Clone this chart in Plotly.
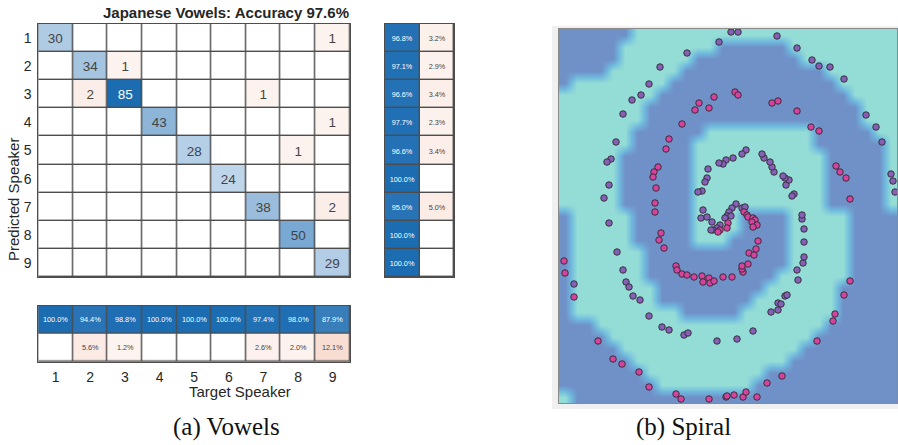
import numpy as np
import plotly.graph_objects as go

W, H = 898, 445

# ---------------- data: confusion matrix (rows = predicted, cols = target) ----------------
speakers = [1, 2, 3, 4, 5, 6, 7, 8, 9]
confusion = [
    [30, 0, 0, 0, 0, 0, 0, 0, 1],
    [0, 34, 1, 0, 0, 0, 0, 0, 0],
    [0, 2, 85, 0, 0, 0, 1, 0, 0],
    [0, 0, 0, 43, 0, 0, 0, 0, 1],
    [0, 0, 0, 0, 28, 0, 0, 1, 0],
    [0, 0, 0, 0, 0, 24, 0, 0, 0],
    [0, 0, 0, 0, 0, 0, 38, 0, 2],
    [0, 0, 0, 0, 0, 0, 0, 50, 0],
    [0, 0, 0, 0, 0, 0, 0, 0, 29],
]
chart_title = "Japanese Vowels: Accuracy 97.6%"
x_label = "Target Speaker"
y_label = "Predicted Speaker"
caption_a = "(a) Vowels"
caption_b = "(b) Spiral"

# ---------------- data: spiral points (pixel-based units) ----------------
purple_x = [731, 738, 777, 797, 812, 819, 830, 844, 866, 876, 882, 891, 893, 895,
            719, 687, 660, 649, 641, 632, 623, 616, 611, 607, 609, 604,
            609, 617, 623, 626, 629, 633, 640, 649, 662, 669, 684, 688, 717, 737, 753,
            771, 778, 778, 781, 785, 787, 798, 797, 803, 804, 804, 804, 802, 802, 574,
            794, 792, 786, 789, 785, 783, 774, 772, 770, 764, 762, 746, 742, 733, 726,
            723, 719, 708, 707, 705, 702, 698, 703, 701, 707, 712,
            736, 732, 729, 727, 731, 725, 720, 717, 713, 711, 742, 745]
purple_y = [32, 32, 36, 48, 60, 66, 67, 79, 115, 127, 142, 174, 181, 192,
            42, 53, 67, 84, 95, 100, 114, 142, 159, 162, 185, 198,
            223, 252, 270, 282, 287, 296, 300, 316, 327, 330, 335, 333, 341, 339, 331,
            312, 310, 303, 304, 296, 295, 280, 270, 263, 257, 242, 229, 219, 215, 284,
            194, 196, 185, 180, 178, 176, 172, 167, 162, 158, 154, 150, 154, 158, 160,
            164, 163, 169, 178, 182, 191, 192, 210, 218, 217, 222,
            204, 208, 212, 216, 216, 218, 225, 228, 230, 230, 208, 207]

magenta_x = [714, 699, 695, 709, 682, 669, 666, 658, 654, 653, 656, 655, 655,
             735, 738, 772, 778, 797, 811, 819, 836, 840, 846, 850,
             661, 659, 664, 676, 677, 682, 687, 694, 702, 703, 709, 710, 714, 723, 732,
             743, 742, 742, 748, 749, 754, 756, 758,
             744, 747, 748, 753, 755, 752, 757, 753, 728, 727, 720, 718,
             564, 565, 574, 598, 613, 622, 639, 649, 676, 681, 709, 726, 727, 734,
             743, 746, 757, 767, 782, 817, 833, 835, 844, 850]
magenta_y = [97, 103, 110, 108, 124, 139, 149, 167, 172, 177, 188, 203, 212,
             92, 95, 103, 101, 111, 127, 131, 166, 172, 178, 199,
             233, 240, 248, 266, 270, 274, 275, 277, 276, 282, 278, 283, 281, 277, 277,
             272, 269, 266, 264, 253, 255, 249, 241,
             212, 215, 217, 218, 220, 222, 225, 227, 223, 228, 230, 232,
             261, 273, 297, 341, 359, 364, 372, 387, 394, 399, 399, 397, 396, 395,
             397, 392, 397, 383, 376, 341, 321, 314, 295, 281]

# classifier decision regions ('#' = dark class, '.' = light class), 31 rows x 28 cols
region_rows = [
    "######......................",
    "#####........######.........",
    "#####......#########........",
    "####......############......",
    "#........##############.....",
    "........################....",
    ".......##################...",
    ".......##################...",
    "......######.........#####..",
    "......#####..........######.",
    ".....######...........#####.",
    ".....######...........#####.",
    ".....######...........#####.",
    ".....######...........#####.",
    ".....######...........#####.",
    "#.....#####....####.....####",
    "#.....#####....####.....####",
    "#.....#####...#####.....####",
    "#......############.....####",
    "#......############.....####",
    "#......###########......####",
    "#.......#########......#####",
    "#.......########.......#####",
    "#.........#####........#####",
    "###...................######",
    "####.................#######",
    "#####...............########",
    "######.............#########",
    "#######..........###########",
    "########........############",
    ".###########################",
]

# ---------------- helpers ----------------
def fx(p):
    return p / W


def fy(p):
    return 1 - p / H


BLUE = "rgb(28,108,178)"
ORANGE = "rgb(217,83,25)"
cm_scale = [[0.0, ORANGE], [0.5, "white"], [1.0, BLUE]]
FONT = "Liberation Sans, Arial, sans-serif"
TXT = "#262626"

cm = np.array(confusion, dtype=float)
n = len(speakers)
diag_max = cm.diagonal().max()
cm_color = np.zeros_like(cm)
cm_text = []
for i in range(n):
    row = []
    for j in range(n):
        v = cm[i, j]
        if i == j:
            cm_color[i, j] = v / diag_max
        elif v > 0:
            cm_color[i, j] = -(0.04 + 0.03 * v)
        row.append(str(int(v)) if v > 0 else "")
    cm_text.append(row)

row_tot = cm.sum(axis=1)
col_tot = cm.sum(axis=0)
row_ok = cm.diagonal() / row_tot * 100
col_ok = cm.diagonal() / col_tot * 100


def err_color(e):
    return -(0.05 + e / 100 * 1.2) if e > 0.05 else 0.0


row_color = [[p / 100, err_color(100 - p)] for p in row_ok]
row_text = [[f"{p:.1f}%", (f"{100 - p:.1f}%" if 100 - p > 0.05 else "")] for p in row_ok]
col_color = [[p / 100 for p in col_ok], [err_color(100 - p) for p in col_ok]]
col_text = [[f"{p:.1f}%" for p in col_ok],
            [(f"{100 - p:.1f}%" if 100 - p > 0.05 else "") for p in col_ok]]

fig = go.Figure()

# main matrix
fig.add_trace(go.Heatmap(
    z=cm_color, x=speakers, y=speakers, text=cm_text, texttemplate="%{text}",
    textfont=dict(family=FONT, size=13.5),
    colorscale=cm_scale, zmin=-1, zmax=1, showscale=False, xgap=1.4, ygap=1.4,
    hoverinfo="skip", xaxis="x", yaxis="y"))

# row summary
fig.add_trace(go.Heatmap(
    z=row_color, x=[0, 1], y=speakers, text=row_text, texttemplate="%{text}",
    textfont=dict(family=FONT, size=7.3),
    colorscale=cm_scale, zmin=-1, zmax=1, showscale=False, xgap=1.4, ygap=1.4,
    hoverinfo="skip", xaxis="x2", yaxis="y2"))

# column summary
fig.add_trace(go.Heatmap(
    z=col_color, x=speakers, y=[0, 1], text=col_text, texttemplate="%{text}",
    textfont=dict(family=FONT, size=7.3),
    colorscale=cm_scale, zmin=-1, zmax=1, showscale=False, xgap=1.4, ygap=1.4,
    hoverinfo="skip", xaxis="x3", yaxis="y3"))

# spiral decision regions
nrows = len(region_rows)
ncols = max(len(r) for r in region_rows)
region_z = [[1 if ch == "." else 0 for ch in r.ljust(ncols, "#")] for r in region_rows]
px0, px1, py0, py1 = 559, 897, 29, 403
dxc = (px1 - px0) / ncols
dyc = (py1 - py0) / nrows
fig.add_trace(go.Heatmap(
    z=region_z, x0=px0 + dxc / 2, dx=dxc, y0=py0 + dyc / 2, dy=dyc,
    colorscale=[[0, "rgb(112,144,200)"], [0.5, "rgb(112,186,222)"], [1, "rgb(148,221,214)"]],
    zmin=0, zmax=1, zsmooth="best", showscale=False, hoverinfo="skip",
    xaxis="x4", yaxis="y4"))
fig.add_trace(go.Scatter(
    x=purple_x, y=purple_y, mode="markers",
    marker=dict(size=6.5, color="rgb(134,96,184)", line=dict(color="#2b2b2b", width=0.9)),
    hoverinfo="skip", xaxis="x4", yaxis="y4"))
fig.add_trace(go.Scatter(
    x=magenta_x, y=magenta_y, mode="markers",
    marker=dict(size=6.5, color="rgb(214,66,160)", line=dict(color="#2b2b2b", width=0.9)),
    hoverinfo="skip", xaxis="x4", yaxis="y4"))

grid_axis = dict(showgrid=False, zeroline=False, showline=True, mirror=True,
                 linecolor="#4d4d4d", linewidth=1, ticks="")

top, bot = fy(277), fy(24)


def ann(text, x, y, size, family=FONT, color=TXT, angle=0):
    return dict(text=text, x=fx(x), y=fy(y), xref="paper", yref="paper",
                xanchor="center", yanchor="middle", showarrow=False, textangle=angle,
                font=dict(size=size, color=color, family=family))


fig.update_layout(
    width=W, height=H, margin=dict(l=0, r=0, t=0, b=0),
    paper_bgcolor="white", plot_bgcolor="#4d4d4d", showlegend=False,
    font=dict(family=FONT, color=TXT),
    xaxis=dict(domain=[fx(38.3), fx(350)], range=[0.5, 9.5], showticklabels=False, **grid_axis),
    yaxis=dict(domain=[top, bot], range=[9.5, 0.5], tickvals=speakers,
               ticktext=[str(s) for s in speakers], tickfont=dict(size=14, color=TXT),
               ticklabelstandoff=3, **grid_axis),
    xaxis2=dict(domain=[fx(385), fx(454)], range=[-0.5, 1.5], showticklabels=False,
                anchor="y2", **grid_axis),
    yaxis2=dict(domain=[top, bot], range=[9.5, 0.5], showticklabels=False,
                anchor="x2", **grid_axis),
    xaxis3=dict(domain=[fx(38.3), fx(350)], range=[0.5, 9.5], tickvals=speakers,
                ticktext=[str(s) for s in speakers], tickfont=dict(size=14, color=TXT),
                anchor="y3", ticklabelstandoff=2, **grid_axis),
    yaxis3=dict(domain=[fy(361.7), fy(305.7)], range=[1.5, -0.5], showticklabels=False,
                anchor="x3", **grid_axis),
    xaxis4=dict(domain=[fx(px0), fx(px1)], range=[px0, px1], showticklabels=False,
                showgrid=False, zeroline=False, showline=True, mirror=True,
                linecolor="#8a8a8a", linewidth=1, anchor="y4"),
    yaxis4=dict(domain=[fy(py1), fy(py0)], range=[py1, py0], showticklabels=False,
                showgrid=False, zeroline=False, showline=True, mirror=True,
                linecolor="#8a8a8a", linewidth=1, anchor="x4"),
    shapes=[dict(type="rect", xref="paper", yref="paper",
                 x0=fx(552), x1=fx(898), y0=fy(409), y1=fy(26),
                 fillcolor="#f0f0f0", line=dict(width=0), layer="below")],
    annotations=[
        ann("<b>" + chart_title + "</b>", 226, 12, 15),
        ann(y_label, 13, 200, 15, angle=-90),
        ann(x_label, 240, 391, 15),
        ann(caption_a, 226, 427, 25, family="Liberation Serif, serif", color="#111"),
        ann(caption_b, 683, 427, 25, family="Liberation Serif, serif", color="#111"),
    ],
)

fig.write_html("out.html")
